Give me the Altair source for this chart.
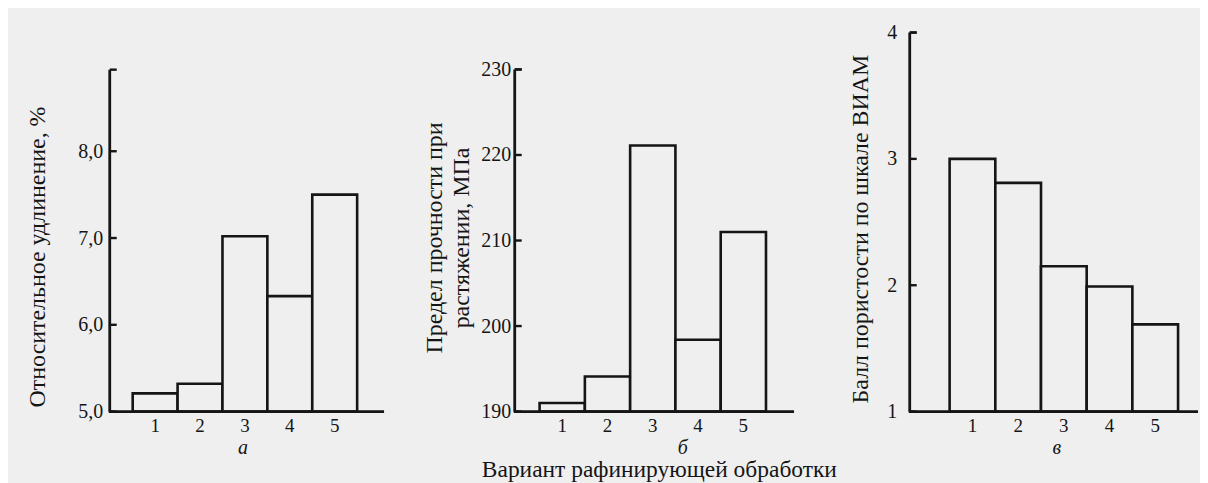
import altair as alt
import pandas as pd

# ---- data ----
variants = ["1", "2", "3", "4", "5"]
elongation = [5.21, 5.32, 7.02, 6.33, 7.50]        # панель а, %
strength = [191.0, 194.1, 221.1, 198.4, 211.0]     # панель б, МПа
porosity = [3.00, 2.81, 2.15, 1.99, 1.69]          # панель в, балл

ticks_a = [5.0, 6.0, 7.0, 8.0]
ticks_b = [190, 200, 210, 220, 230]
ticks_c = [1, 2, 3, 4]

title_a = "Относительное удлинение, %"
title_b1 = "Предел прочности при"
title_b2 = "растяжении, МПа"
title_c = "Балл пористости по шкале ВИАМ"
common_title = "Вариант рафинирующей обработки"
subs = ["а", "б", "в"]

FONT = "Liberation Serif"
BG = "#efefef"
INK = "#151515"
H = 380


def text_layer(s, x, y, size=24, angle=0, style="normal", baseline="middle"):
    return alt.Chart(pd.DataFrame({"s": [s]})).mark_text(
        font=FONT, fontSize=size, color=INK, angle=angle, fontStyle=style,
        align="center", baseline=baseline,
    ).encode(text="s:N", x=alt.value(x), y=alt.value(y))


def panel(values, ymin, ymax, axis_top, tick_vals, fmt_expr, width, axis_len,
          p_outer, align, lab_pad, sub, sub_x, extra):
    df = pd.DataFrame({"v": variants, "val": values, "base": [ymin] * len(values)})
    yscale = alt.Scale(domain=[ymin, ymax], zero=False, nice=False)
    xscale = alt.Scale(paddingInner=0, paddingOuter=p_outer, align=align)
    yaxis = alt.Axis(values=tick_vals, labelExpr=fmt_expr, ticks=False,
                     tickSize=0, domain=False, grid=False,
                     labelPadding=lab_pad, labelFont=FONT,
                     labelFontSize=20, labelColor=INK, title=None)
    bars = alt.Chart(df).mark_bar(fill=BG, stroke=INK, strokeWidth=2.6).encode(
        x=alt.X("v:N", sort=variants, scale=xscale,
                axis=alt.Axis(labelAngle=0, ticks=False, tickSize=0, domain=False,
                              labelPadding=5, grid=False,
                              labelFont=FONT, labelFontSize=19, labelColor=INK,
                              title=sub, titleFont=FONT, titleFontSize=20,
                              titleFontStyle="italic", titleFontWeight="normal",
                              titleColor=INK, titleX=sub_x, titleY=36,
                              titleAlign="center", titleBaseline="middle")),
        y=alt.Y("val:Q", scale=yscale, axis=yaxis),
        y2="base:Q",
    )
    tick_df = pd.DataFrame({"t": tick_vals + [axis_top]})
    ticks = alt.Chart(tick_df).mark_rule(color=INK, strokeWidth=2.4).encode(
        y=alt.Y("t:Q", scale=yscale, axis=yaxis),
        x=alt.value(0), x2=alt.value(7),
    )
    line_df = pd.DataFrame({"lo": [ymin], "hi": [axis_top]})
    yline = alt.Chart(line_df).mark_rule(color=INK, strokeWidth=2.8).encode(
        y=alt.Y("lo:Q", scale=yscale, axis=yaxis), y2="hi:Q", x=alt.value(0),
    )
    xline = alt.Chart(line_df).mark_rule(color=INK, strokeWidth=2.8).encode(
        y=alt.Y("lo:Q", scale=yscale, axis=yaxis), x=alt.value(-1),
        x2=alt.value(axis_len),
    )
    return alt.layer(bars, ticks, yline, xline, *extra).properties(
        width=width, height=H)


anchor = alt.Chart(pd.DataFrame({"a": [0]})).mark_rule(
    strokeOpacity=0, strokeWidth=1
).encode(x=alt.value(-101), y=alt.value(-23), y2=alt.value(300))

pa = panel(
    elongation, 5.0, 5.0 + H / 87.0, 8.94, ticks_a,
    "replace(format(datum.value, '.1f'), '.', ',')",
    290, 275, 0.722, 0.354, 7, subs[0], 133,
    [text_layer(title_a, -72, 225, angle=270), anchor],
)

pb = panel(
    strength, 190.0, 190.0 + H / 8.575, 230.0, ticks_b,
    "format(datum.value, 'd')",
    280, 280, 0.584, 0.47, 4, subs[1], 168,
    [text_layer(title_b1, -80, 206, angle=270),
     text_layer(title_b2, -53, 206, angle=270),
     text_layer(common_title, 145, 446, size=23.5, baseline="alphabetic")],
)

pc = panel(
    porosity, 1.0, 4.0, 4.0, ticks_c,
    "format(datum.value, 'd')",
    288, 289, 0.644, 0.678, 13, subs[2], 147,
    [text_layer(title_c, -49, 197, angle=270)],
)

chart = alt.hconcat(pa, pb, pc, spacing=116, bounds="flush").properties(
    padding=0, background=BG
).configure_view(stroke="transparent")

chart.save("out.html", embed_options={"renderer": "svg", "actions": False})
